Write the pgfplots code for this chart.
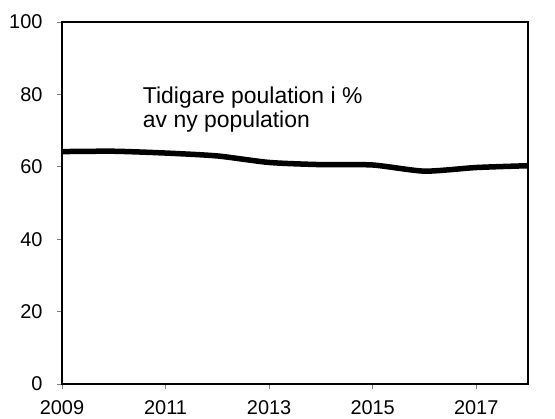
\documentclass[border=0pt]{standalone}
\usepackage{pgfplots}
\pgfplotsset{compat=1.18}
\usepackage{fontspec}
\setmainfont{Liberation Sans}
\begin{document}
\begin{tikzpicture}
\begin{axis}[
  scale only axis,
  width=466bp, height=362bp,
  xmin=2009, xmax=2018, ymin=0, ymax=100,
  xtick={2009,2011,2013,2015,2017},
  ytick={0,20,40,60,80,100},
  tick align=outside,
  tick pos=left,
  major tick length=5bp,
  tick style={gray, line width=0.8bp},
  axis line style={black, line width=1.3bp},
  /pgf/number format/assume math mode=true,
  /pgf/number format/set thousands separator={},
  tick label style={font=\fontsize{20}{23}\selectfont},
  xticklabel style={yshift=-8bp},
  yticklabel style={xshift=-11bp},
  clip=false,
]
\addplot[black, line width=5.5bp, smooth, tension=0.4] coordinates {
(2009,64.2) (2010,64.3) (2011,63.8) (2012,63.0) (2013,61.2) (2014,60.6) (2015,60.5) (2016,58.8) (2017,59.8) (2018,60.3)
};
\node[anchor=north west, align=left, font=\fontsize{23}{24}\selectfont, inner sep=0pt] at (axis cs:2010.56,82.2) {Tidigare poulation i \%\\av ny population};
\path (rel axis cs:0,0) +(-62bp,-34bp);
\path (rel axis cs:1,1) +(27bp,22bp);
\end{axis}
\end{tikzpicture}
\end{document}
